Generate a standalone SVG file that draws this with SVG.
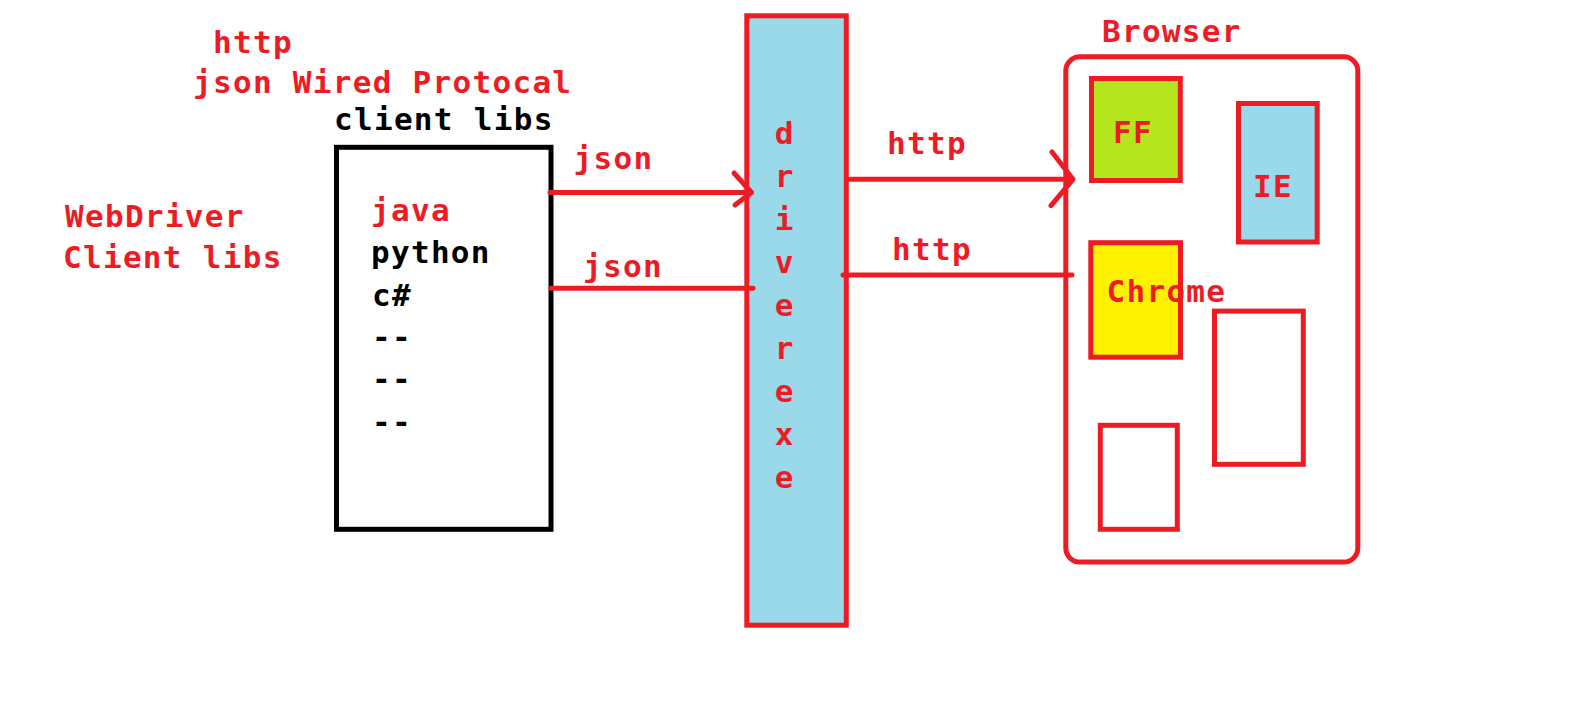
<svg xmlns="http://www.w3.org/2000/svg" width="1594" height="712" viewBox="0 0 1594 712">
<style>
.t{font-family:"DejaVu Sans Mono","Liberation Mono",monospace;font-weight:bold;font-size:31px;letter-spacing:1.3px}
.r{fill:#ed1c24}
.k{fill:#000}
.box{stroke:#ed1c24;stroke-width:5}
.ln{stroke:#ed1c24;stroke-width:5;fill:none;stroke-linecap:round;stroke-linejoin:round}
.dl{font-family:"DejaVu Sans Mono","Liberation Mono",monospace;font-weight:bold;font-size:31px;fill:#ed1c24;text-anchor:middle}
</style>
<rect width="1594" height="712" fill="#fff"/>
<g id="labels">
<text class="t r" x="213" y="53">http</text>
<text class="t r" x="193" y="93">json Wired Protocal</text>
<text class="t r" x="65" y="227">WebDriver</text>
<text class="t r" x="63" y="268">Client libs</text>
</g>
<g id="client-libs">
<text class="t k" x="334" y="130">client libs</text>
<rect x="336.5" y="147.3" width="214.5" height="382" fill="#fff" stroke="#000" stroke-width="5"/>
<text class="t r" x="371" y="221">java</text>
<text class="t k" x="371" y="263">python</text>
<text class="t k" x="372" y="306">c#</text>
<text class="t k" x="372" y="348">--</text>
<text class="t k" x="372" y="390">--</text>
<text class="t k" x="372" y="433">--</text>
</g>
<g id="driver-exe">
<rect class="box" x="746.8" y="15.8" width="99.5" height="609.4" fill="#99d9ea"/>
<text class="dl" x="784" y="144">d</text>
<text class="dl" x="784" y="187">r</text>
<text class="dl" x="784" y="230">i</text>
<text class="dl" x="784" y="273">v</text>
<text class="dl" x="784" y="316">e</text>
<text class="dl" x="784" y="359">r</text>
<text class="dl" x="784" y="402">e</text>
<text class="dl" x="784" y="445">x</text>
<text class="dl" x="784" y="488">e</text>
</g>
<g id="browser">
<text class="t r" x="1102" y="42">Browser</text>
<rect class="box" x="1065.8" y="56.8" width="292" height="505.2" rx="14" ry="14" fill="none"/>
</g>
<g id="ff">
<rect class="box" x="1091.5" y="78.5" width="88.8" height="102" fill="#b5e61d"/>
<text class="t r" x="1113" y="143">FF</text>
</g>
<g id="ie">
<rect class="box" x="1238.5" y="103.5" width="78.7" height="138.5" fill="#99d9ea"/>
<text class="t r" x="1253" y="197">IE</text>
</g>
<g id="chrome">
<rect class="box" x="1090.8" y="242.7" width="89.7" height="114.5" fill="#fff200"/>
<text class="t r" x="1106.5" y="302">Chrome</text>
</g>
<g id="empty-1">
<rect class="box" x="1214.5" y="311.1" width="88.8" height="153.2" fill="none"/>
</g>
<g id="empty-2">
<rect class="box" x="1100.3" y="425.3" width="77" height="104" fill="none"/>
</g>
<g id="connectors">
<path class="ln" d="M550 192.5H751.5M734 173L751.5 192.5L735 205"/>
<text class="t r" x="573.5" y="169">json</text>
<path class="ln" d="M551 288.3H753"/>
<text class="t r" x="583" y="277">json</text>
<path class="ln" d="M848 179.3H1073M1052 152L1073 179.3L1051 205.7"/>
<text class="t r" x="887" y="154">http</text>
<path class="ln" d="M843 275H1072"/>
<text class="t r" x="892" y="260">http</text>
</g>
</svg>
